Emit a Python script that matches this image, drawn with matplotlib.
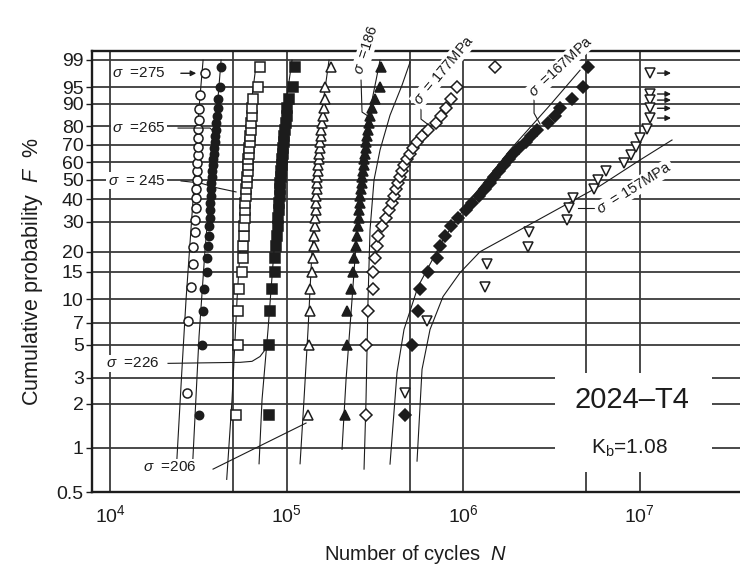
import numpy as np
import matplotlib
matplotlib.use("Agg")
import matplotlib.pyplot as plt
from matplotlib.patches import Rectangle
from matplotlib.ticker import FixedLocator, NullLocator, NullFormatter

plt.rcParams['font.family'] = ['Liberation Sans', 'DejaVu Sans']
plt.rcParams['mathtext.fontset'] = 'custom'
plt.rcParams['mathtext.rm'] = 'Liberation Sans'
plt.rcParams['mathtext.it'] = 'Liberation Sans:italic'
plt.rcParams['mathtext.bf'] = 'Liberation Sans:bold'

# ---------------------------------------------------------
# DATA
# ---------------------------------------------------------
# plotting positions in %, for 30 and 21 specimens
F30 = [1.67, 5.0, 8.33, 11.67, 15.0, 18.33, 21.67, 25.0, 28.33, 31.67,
       35.0, 38.33, 41.67, 45.0, 48.33, 51.67, 55.0, 58.33, 61.67, 65.0,
       68.33, 71.67, 75.0, 78.33, 81.67, 85.0, 88.33, 91.67, 95.0, 98.33]
F21 = [2.38, 7.14, 11.9, 16.67, 21.43, 26.19, 30.95, 35.71, 40.48, 45.24, 50.0,
       54.76, 59.52, 64.29, 69.05, 73.81, 78.57, 83.33, 88.1, 92.86, 97.62]

# cycles to failure for each stress level (MPa)
N_275 = [27300, 27670, 28770, 29520, 29520, 30300, 30300, 30710, 30710, 30710, 30900,
         31110, 31110, 31310, 31520, 31520, 31700, 31930, 31930, 32130, 34530]
N_265 = [31930, 33220, 33660, 34100, 35460, 35460, 35930, 36150, 36390, 36630,
         36870, 36870, 37110, 37350, 37350, 37600, 37840, 38090, 38340, 38590,
         38840, 39100, 39360, 39620, 39880, 40400, 40670, 40930, 41750, 42570]
N_245 = [51750, 53110, 53110, 53810, 55960, 56690, 56690, 57060, 57440, 57810,
         58190, 58190, 58570, 58960, 59340, 59730, 60120, 60520, 60520, 60910,
         61310, 61720, 62120, 62530, 62940, 63350, 63760, 64600, 68940, 70760]
N_226 = [79600, 79600, 80620, 82740, 86060, 86060, 87200, 88360, 88950, 89520,
         90090, 90680, 91270, 91880, 91880, 92470, 93070, 93690, 94300, 94910,
         95540, 96160, 96780, 98060, 98700, 100000, 100650, 102640, 108850, 111730]
N_206 = [132400, 134100, 135900, 135900, 139500, 141300, 142200, 143200, 144100, 145000,
         146000, 146900, 146900, 147900, 148900, 148900, 149800, 150800, 151800, 152800,
         153800, 154800, 155800, 156800, 158900, 161000, 163100, 164200, 165200, 178700]
N_186 = [214500, 220200, 220200, 232000, 238200, 241300, 247700, 250900, 254200, 255800,
         257500, 259200, 260900, 262600, 266000, 267800, 271300, 273100, 274900, 278500,
         280300, 282100, 285800, 289600, 293400, 297200, 305100, 317300, 338700, 343100]
N_177 = [282100, 282100, 289600, 309100, 309100, 317300, 325700, 330000, 347600, 366200,
         380800, 396000, 406500, 417200, 428200, 439600, 451200, 463100, 481600, 500900,
         520900, 548800, 585800, 633500, 703100, 750600, 801300, 855100, 924700, 1518000]
N_167 = [469200, 514000, 555900, 570600, 633500, 712300, 740700, 790700, 855100, 937000,
         1040000, 1125000, 1232000, 1333000, 1422000, 1498000, 1600000, 1707000, 1822000, 1920000,
         2077000, 2275000, 2428000, 2626000, 3031000, 3321000, 3544000, 4146000, 4786000, 5108000]
N_157 = [469200, 625200, 1333000, 1368000, 2335000, 2365000, 3884000, 3987000, 4200000,
         5524000, 5820000, 6460000, 8170000, 8950000, 9555000, 10070000, 11030000]
F_157 = F21[:17]
# run-outs (no failure) at 157 MPa
N_157_run = [11500000, 11500000, 11500000, 11500000, 11500000]
F_157_run = [97.62, 93.2, 91.3, 88.3, 84.1]

# fitted distribution curves (cycles, %)
C_275 = ([23880, 25490, 26950, 29530, 31520, 33660], [0.81, 3.26, 9.94, 39.67, 83.15, 98.98])
C_265 = ([29420, 31930, 34530, 37350, 40380, 42570], [0.81, 5.68, 20.54, 50.0, 87.57, 98.98])
C_245 = ([45820, 49120, 52420, 56690, 61310, 67180], [0.61, 2.14, 9.94, 39.67, 83.15, 98.55])
C_226 = ([69870, 72650, 78560, 84970, 91880, 98060, 107400], [0.78, 2.14, 6.32, 20.54, 50.0, 87.57, 98.98])
C_206 = ([119300, 125600, 132400, 139500, 148900, 158900, 174100], [0.78, 2.14, 6.32, 20.54, 50.0, 87.57, 98.98])
C_186 = ([206300, 217400, 235000, 250900, 267800, 289600, 321500, 338700],
         [0.98, 2.93, 9.94, 27.0, 55.5, 83.15, 96.47, 98.98])
C_177 = ([274900, 282100, 289600, 297200, 313200, 338700, 385800, 451200, 500900],
         [0.717, 2.14, 9.94, 27.0, 50.0, 67.1, 85.4, 95.45, 98.82])
C_167 = ([385800, 422700, 463100, 555900, 770200, 1096000, 1846000, 3111000, 4602000],
         [0.776, 3.26, 6.32, 12.05, 23.6, 39.67, 67.1, 89.52, 98.0])
C_157 = ([548800, 585800, 650200, 770200, 961600, 1248000, 2103000, 3544000, 5974000, 10070000, 15280000],
         [0.813, 3.42, 6.32, 10.39, 14.79, 19.97, 27.0, 35.95, 46.74, 61.28, 72.75])

F_ticks = [0.5, 1, 2, 3, 5, 7, 10, 15, 20, 30, 40, 50, 60, 70, 80, 90, 95, 99]
F_tick_labels = ['0.5', '1', '2', '3', '5', '7', '10', '15', '20', '30', '40', '50',
                 '60', '70', '80', '90', '95', '99']
N_ticks = [1e4, 1e5, 1e6, 1e7]
N_tick_labels = [r'$10^{4}$', r'$10^{5}$', r'$10^{6}$', r'$10^{7}$']
N_grid_minor = [5e4, 5e5, 5e6]


# Weibull probability scale
def weibull_fwd(f):
    p = np.clip(np.asarray(f, dtype=float) / 100.0, 1e-6, 1 - 1e-9)
    return np.log(-np.log1p(-p))


def weibull_inv(w):
    return 100.0 * -np.expm1(-np.exp(w))


ink = '#1c1c1c'
grid_c = '#3a3a3a'

fig = plt.figure(figsize=(7.4, 5.69), dpi=100)
ax = fig.add_axes([0.1243, 0.1353, 0.8757, 0.7750])

ax.set_xscale('log')
ax.set_yscale('function', functions=(weibull_fwd, weibull_inv))
ax.set_xlim(7900, 3.71e7)
ax.set_ylim(0.5, 99.5)

ax.set_yticks(F_ticks)
ax.set_yticklabels(F_tick_labels)
ax.yaxis.set_minor_locator(NullLocator())
ax.set_xticks(N_ticks)
ax.set_xticklabels(N_tick_labels)
ax.xaxis.set_minor_locator(FixedLocator(N_grid_minor))
ax.xaxis.set_minor_formatter(NullFormatter())

ax.tick_params(axis='y', which='major', direction='out', length=4, width=1, pad=2,
               labelsize=14, colors=ink)
ax.tick_params(axis='x', which='both', length=0, pad=9, labelsize=14, colors=ink)

ax.set_axisbelow(True)
ax.grid(True, which='both', axis='x', color=grid_c, lw=1.3)
ax.grid(True, which='major', axis='y', color=grid_c, lw=1.3)
for s in ['left', 'bottom', 'top']:
    ax.spines[s].set_color(ink)
    ax.spines[s].set_linewidth(1.7)
ax.spines['right'].set_visible(False)

# fitted curves
for cn, cf in [C_275, C_265, C_245, C_226, C_206, C_186, C_177, C_167, C_157]:
    ax.plot(cn, cf, color=ink, lw=0.8, zorder=2)

# data points
series = [
    (N_275, F21, 'o', 'white', 6.5),
    (N_265, F30, 'o', ink, 6.0),
    (N_245, F30, 's', 'white', 6.5),
    (N_226, F30, 's', ink, 6.5),
    (N_206, F30, '^', 'white', 7.0),
    (N_186, F30, '^', ink, 6.5),
    (N_177, F30, 'D', 'white', 6.5),
    (N_167, F30, 'D', ink, 6.5),
    (N_157, F_157, 'v', 'white', 7.0),
]
for n, f, m, fc, ms in series:
    ax.plot(n, f, ls='none', marker=m, ms=ms, mfc=fc, mec=ink, mew=1.1, zorder=3)

ax.plot(N_157_run, F_157_run, ls='none', marker='v', ms=7, mfc='white', mec=ink, mew=1.1, zorder=3)
for n, f in zip(N_157_run, F_157_run):
    ax.annotate('', xy=(n * 1.36, f), xytext=(n * 1.06, f),
                arrowprops=dict(arrowstyle='-|>', color=ink, lw=1.0, mutation_scale=8), zorder=3)

# stress-level labels
wb = dict(facecolor='white', edgecolor='none', pad=1.0)
lab_kw = dict(fontsize=11, color=ink, bbox=wb, zorder=4)

ax.text(10260, 97.6, r'$\sigma$  =275', ha='left', va='center', **lab_kw)
ax.annotate('', xy=(31930, 97.6), xytext=(24290, 97.6),
            arrowprops=dict(arrowstyle='-|>', color=ink, lw=1.0, mutation_scale=8), zorder=4)

ax.text(10260, 79.2, r'$\sigma$  =265', ha='left', va='center', **lab_kw)
ax.plot([24290, 36870, 38340], [79.2, 79.2, 77.6], color=ink, lw=0.8, zorder=4)

ax.text(9700, 49.6, r'$\sigma$  = 245', ha='left', va='center', **lab_kw)
ax.plot([25250, 32360, 40380, 51750], [49.4, 48.3, 45.7, 43.6], color=ink, lw=0.8, zorder=2.5)

ax.text(9490, 3.75, r'$\sigma$  =226', ha='left', va='center', **lab_kw)
ax.plot([21310, 54510, 63750, 70760, 76540], [3.75, 3.81, 3.87, 4.17, 4.72], color=ink, lw=0.8, zorder=2.5)

ax.text(15380, 0.74, r'$\sigma$  =206', ha='left', va='center', **lab_kw)
ax.plot([38340, 128980], [0.717, 1.478], color=ink, lw=0.8, zorder=2.5)

rot_kw = dict(ha='left', va='center', rotation_mode='anchor', fontsize=10.5, color=ink,
              bbox=wb, zorder=4)
ax.text(254200, 97.47, r'$\sigma$  =186', rotation=72, **rot_kw)
ax.plot([264300, 267800, 301200], [96.47, 86.74, 84.09], color=ink, lw=0.8, zorder=2.5)

ax.text(541700, 90.25, r'$\sigma$  = 177MPa', rotation=50, **rot_kw)
ax.plot([578000, 578000, 650200], [88.38, 83.62, 80.22], color=ink, lw=0.8, zorder=2.5)

ax.text(2428000, 93.16, r'$\sigma$  =167MPa', rotation=43, **rot_kw)
ax.plot([2526000, 2526000, 2731000], [91.29, 86.3, 81.23], color=ink, lw=0.8, zorder=2.5)

ax.text(5821000, 34.62, r'$\sigma$  = 157MPa', rotation=32, **rot_kw)
ax.plot([4483000, 5743000], [35.95, 35.95], color=ink, lw=0.8, zorder=2.5)

# material box
ax.add_patch(Rectangle((0.7145, 0.0454), 0.2423, 0.2244, transform=ax.transAxes,
                       facecolor='white', edgecolor='none', zorder=1))
ax.text(0.833, 0.2086, '2024\u2013T4', transform=ax.transAxes, ha='center', va='center',
        fontsize=21, color=ink, zorder=4)
ax.text(0.830, 0.0998, r'K$_{\mathrm{b}}$=1.08', transform=ax.transAxes, ha='center',
        va='center', fontsize=15, color=ink, zorder=4)

ax.set_xlabel(r'Number of cycles  $N$', fontsize=14.5, color=ink, labelpad=12)
ax.set_ylabel(r'Cumulative probability  $F$  %', fontsize=15.5, color=ink, labelpad=8)

fig.savefig('out.png', dpi=100, facecolor='white')
